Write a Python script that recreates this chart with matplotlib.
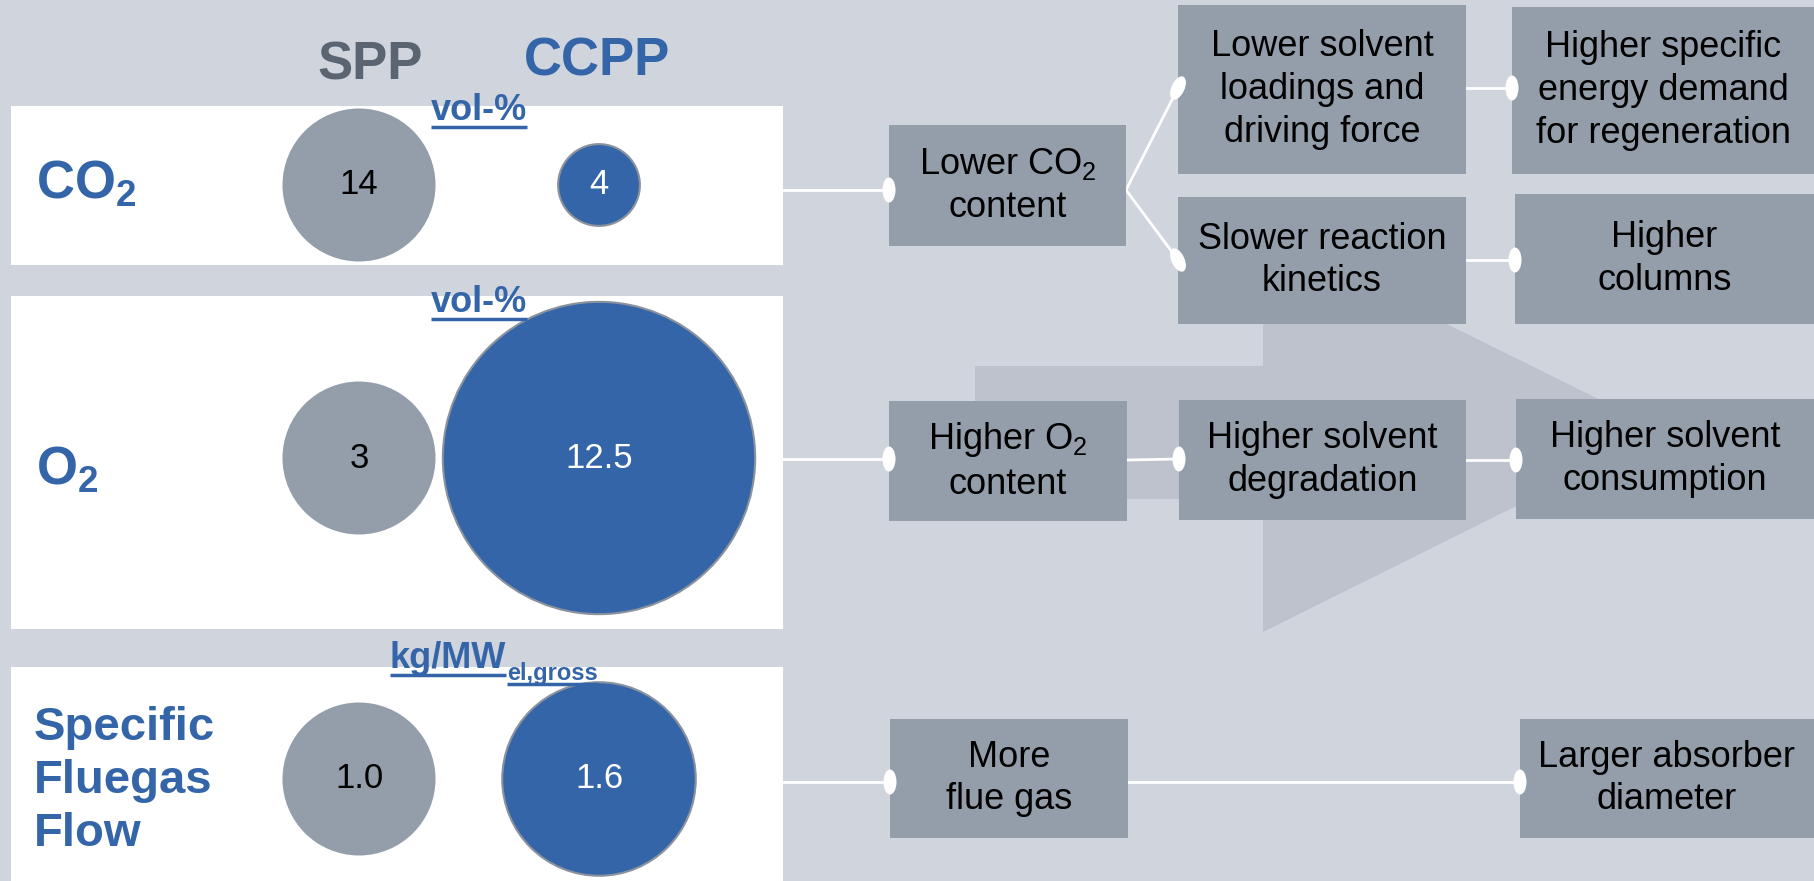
import matplotlib
matplotlib.use("Agg")
import matplotlib.pyplot as plt
from matplotlib.patches import Rectangle, Circle, Ellipse, Polygon
import numpy as np

plt.rcParams['font.family'] = ['Liberation Sans', 'DejaVu Sans']
plt.rcParams['mathtext.fontset'] = 'custom'
plt.rcParams['mathtext.rm'] = 'Liberation Sans'
plt.rcParams['mathtext.it'] = 'Liberation Sans:italic'
plt.rcParams['mathtext.bf'] = 'Liberation Sans:bold'

# --- data ---
row_labels = [r"CO$_\mathbf{2}$", r"O$_\mathbf{2}$", "Specific\nFluegas\nFlow"]
units = ["vol-%", "vol-%", "kg/MW"]
unit_subs = ["", "", "el,gross"]
spp_values = [14, 3, 1.0]
ccpp_values = [4, 12.5, 1.6]
spp_labels = ["14", "3", "1.0"]
ccpp_labels = ["4", "12.5", "1.6"]
columns = ["SPP", "CCPP"]

box_texts = [
    "Lower CO$_2$\ncontent",
    "Lower solvent\nloadings and\ndriving force",
    "Higher specific\nenergy demand\nfor regeneration",
    "Slower reaction\nkinetics",
    "Higher\ncolumns",
    "Higher O$_2$\ncontent",
    "Higher solvent\ndegradation",
    "Higher solvent\nconsumption",
    "More\nflue gas",
    "Larger absorber\ndiameter",
]

# --- layout ---
W, H = 1814, 881
bg = "#D0D4DD"
grey = "#949EAB"
blue = "#3465A8"
dark = "#5B6571"
arrow_col = "#BDC2CC"

bands = [(106, 265), (296, 629), (667, 881)]
row_y = [185, 458, 779]
col_x = [359, 599]
r_ref = 76.5

# x0, y0, x1, y1 for each box
box_pos = [
    (889, 125, 1126, 246),
    (1178, 5, 1466, 174),
    (1512, 7, 1814, 174),
    (1178, 197, 1466, 324),
    (1515, 194, 1814, 324),
    (889, 401, 1127, 521),
    (1179, 400, 1466, 520),
    (1516, 399, 1814, 519),
    (890, 719, 1128, 838),
    (1520, 719, 1814, 838),
]

# connectors: (x0, y0, x1, y1, marker angle)
links = [
    (782, 190, 889, 190, 0),
    (1126, 190, 1178, 88, 25),
    (1126, 190, 1178, 260, -25),
    (1466, 88, 1512, 88, 0),
    (1466, 260, 1515, 260, 0),
    (783, 459, 889, 459, 0),
    (1127, 460, 1179, 459, 0),
    (1466, 460, 1516, 460, 0),
    (783, 782, 890, 782, 0),
    (1128, 782, 1520, 782, 0),
]

fig = plt.figure(figsize=(W / 100, H / 100), dpi=100)
fig.patch.set_facecolor(bg)
ax = fig.add_axes([0, 0, 1, 1])
ax.set_xlim(0, W)
ax.set_ylim(H, 0)
ax.axis('off')

# big background arrow
arrow = Polygon([(975, 366), (1263, 366), (1263, 233), (1665, 432),
                 (1263, 632), (1263, 499), (975, 499)],
                closed=True, fc=arrow_col, ec='none', zorder=1)
ax.add_patch(arrow)

# white bands
for y0, y1 in bands:
    ax.add_patch(Rectangle((11, y0), 772, y1 - y0, fc='white', ec='none', zorder=1))

# column headers
ax.text(370, 79, columns[0], ha='center', va='baseline', fontsize=38,
        fontweight='bold', color=dark, zorder=5)
ax.text(597, 75, columns[1], ha='center', va='baseline', fontsize=38,
        fontweight='bold', color=blue, zorder=5)

# row labels
ax.text(36, 199, row_labels[0], ha='left', va='baseline', fontsize=38,
        fontweight='bold', color=blue, zorder=5)
ax.text(36, 485, row_labels[1], ha='left', va='baseline', fontsize=38,
        fontweight='bold', color=blue, zorder=5)
ax.text(34, 781, row_labels[2], ha='left', va='center', fontsize=34,
        fontweight='bold', color=blue, linespacing=1.27, zorder=5)

# circles: area scales with CCPP / SPP ratio
for i, y in enumerate(row_y):
    r_c = r_ref * np.sqrt(ccpp_values[i] / spp_values[i])
    ax.add_patch(Circle((col_x[0], y), r_ref, fc=grey, ec='none', zorder=2))
    ax.add_patch(Circle((col_x[1], y), r_c, fc=blue, ec='#8A929E', lw=1.5, zorder=2))
    ax.text(col_x[0], y, spp_labels[i], ha='center', va='center', fontsize=25,
            color='black', zorder=5)
    ax.text(col_x[1], y, ccpp_labels[i], ha='center', va='center', fontsize=25,
            color='white', zorder=5)

# unit labels (underlined)
unit_base = [120, 312, 668]
fig.canvas.draw()
renderer = fig.canvas.get_renderer()
inv = ax.transData.inverted()


def underline(t, y):
    bb = t.get_window_extent(renderer)
    (x0, _), (x1, _) = inv.transform([(bb.x0, bb.y0), (bb.x1, bb.y1)])
    ax.plot([x0, x1], [y, y], color=blue, lw=2.5, solid_capstyle='butt', zorder=5)
    return x1


for i, yb in enumerate(unit_base):
    if unit_subs[i]:
        t = ax.text(390, yb, units[i], ha='left', va='baseline', fontsize=26,
                    fontweight='bold', color=blue, zorder=5)
        x1 = underline(t, yb + 7)
        ts = ax.text(x1 + 1, yb + 12, unit_subs[i], ha='left', va='baseline',
                     fontsize=17, fontweight='bold', color=blue, zorder=5)
        underline(ts, yb + 16)
    else:
        t = ax.text(479, yb, units[i], ha='center', va='baseline', fontsize=26,
                    fontweight='bold', color=blue, zorder=5)
        underline(t, yb + 7)

# flow-chart boxes
for txt, (x0, y0, x1, y1) in zip(box_texts, box_pos):
    ax.add_patch(Rectangle((x0, y0), x1 - x0, y1 - y0, fc=grey, ec='none', zorder=3))
    ax.text((x0 + x1) / 2, (y0 + y1) / 2, txt, ha='center', va='center',
            fontsize=26, color='black', linespacing=1.28, zorder=5)

# connectors
for x0, y0, x1, y1, ang in links:
    ax.plot([x0, x1], [y0, y1], color='white', lw=2, zorder=2)
    ax.add_patch(Ellipse((x1, y1), 13, 25, angle=ang, fc='white', ec='none', zorder=4))

fig.savefig("out.png", dpi=100, facecolor=bg)
